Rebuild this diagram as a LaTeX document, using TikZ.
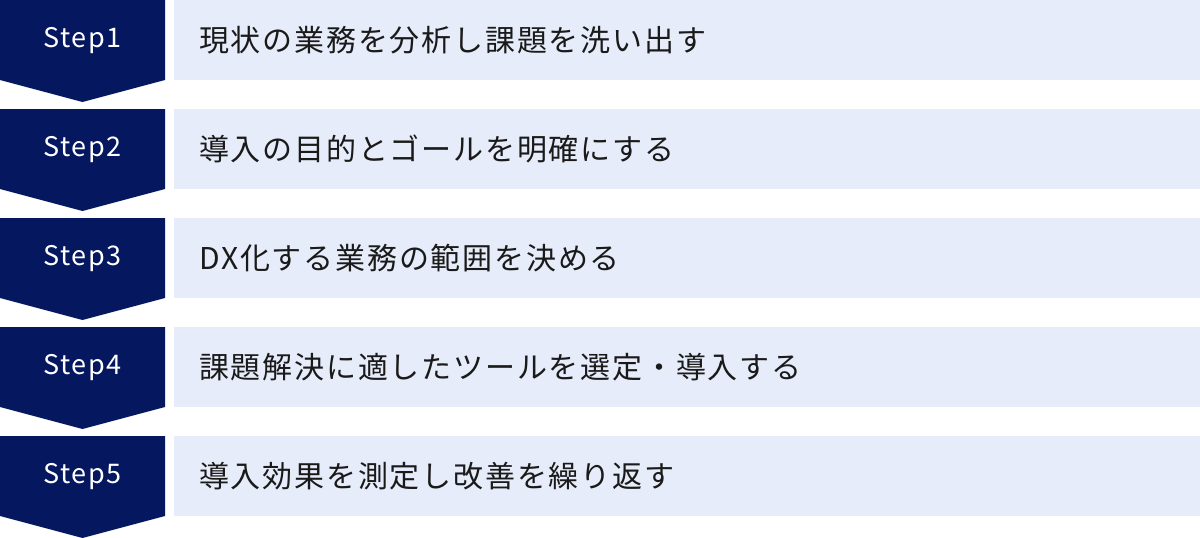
\documentclass[tikz,border=0pt]{standalone}
\usepackage{fontspec}
\setmainfont{Noto Sans CJK JP}
\newfontfamily\jpfont[LetterSpace=6]{Noto Sans CJK JP}
\newfontfamily\stepfont[LetterSpace=6]{Noto Sans CJK JP}
\definecolor{navy}{HTML}{04175F}
\definecolor{barbg}{HTML}{E6ECF9}
\definecolor{ink}{HTML}{1A1A1A}
\tikzset{
  stepshape/.style={fill=navy},
  barshape/.style={fill=barbg},
  steplabel/.style={text=white, inner sep=0pt, font=\stepfont\fontsize{27}{32}\selectfont},
  barlabel/.style={text=ink, inner sep=0pt, anchor=west, font=\jpfont\fontsize{30}{36}\selectfont}
}
\begin{document}
\begin{tikzpicture}[x=1pt,y=-1pt]
\useasboundingbox (0,0) rectangle (1200,538);
\foreach \i/\t in {0/現状の業務を分析し課題を洗い出す,1/導入の目的とゴールを明確にする,2/DX化する業務の範囲を決める,3/課題解決に適したツールを選定・導入する,4/導入効果を測定し改善を繰り返す}{
  \pgfmathsetmacro{\yy}{109*\i}
  \fill[stepshape] (0,\yy) -- (165,\yy) -- (165,\yy+80) -- (82.5,\yy+102) -- (0,\yy+80) -- cycle;
  \fill[barshape] (174,\yy) rectangle (1200,\yy+80);
  \pgfmathtruncatemacro{\n}{\i+1}
  \node[steplabel] (step\n) at (82.5,\yy+41) {Step\n};
  \node[barlabel] (task\n) at (199,\yy+40) {\t};
}
\end{tikzpicture}
\end{document}
